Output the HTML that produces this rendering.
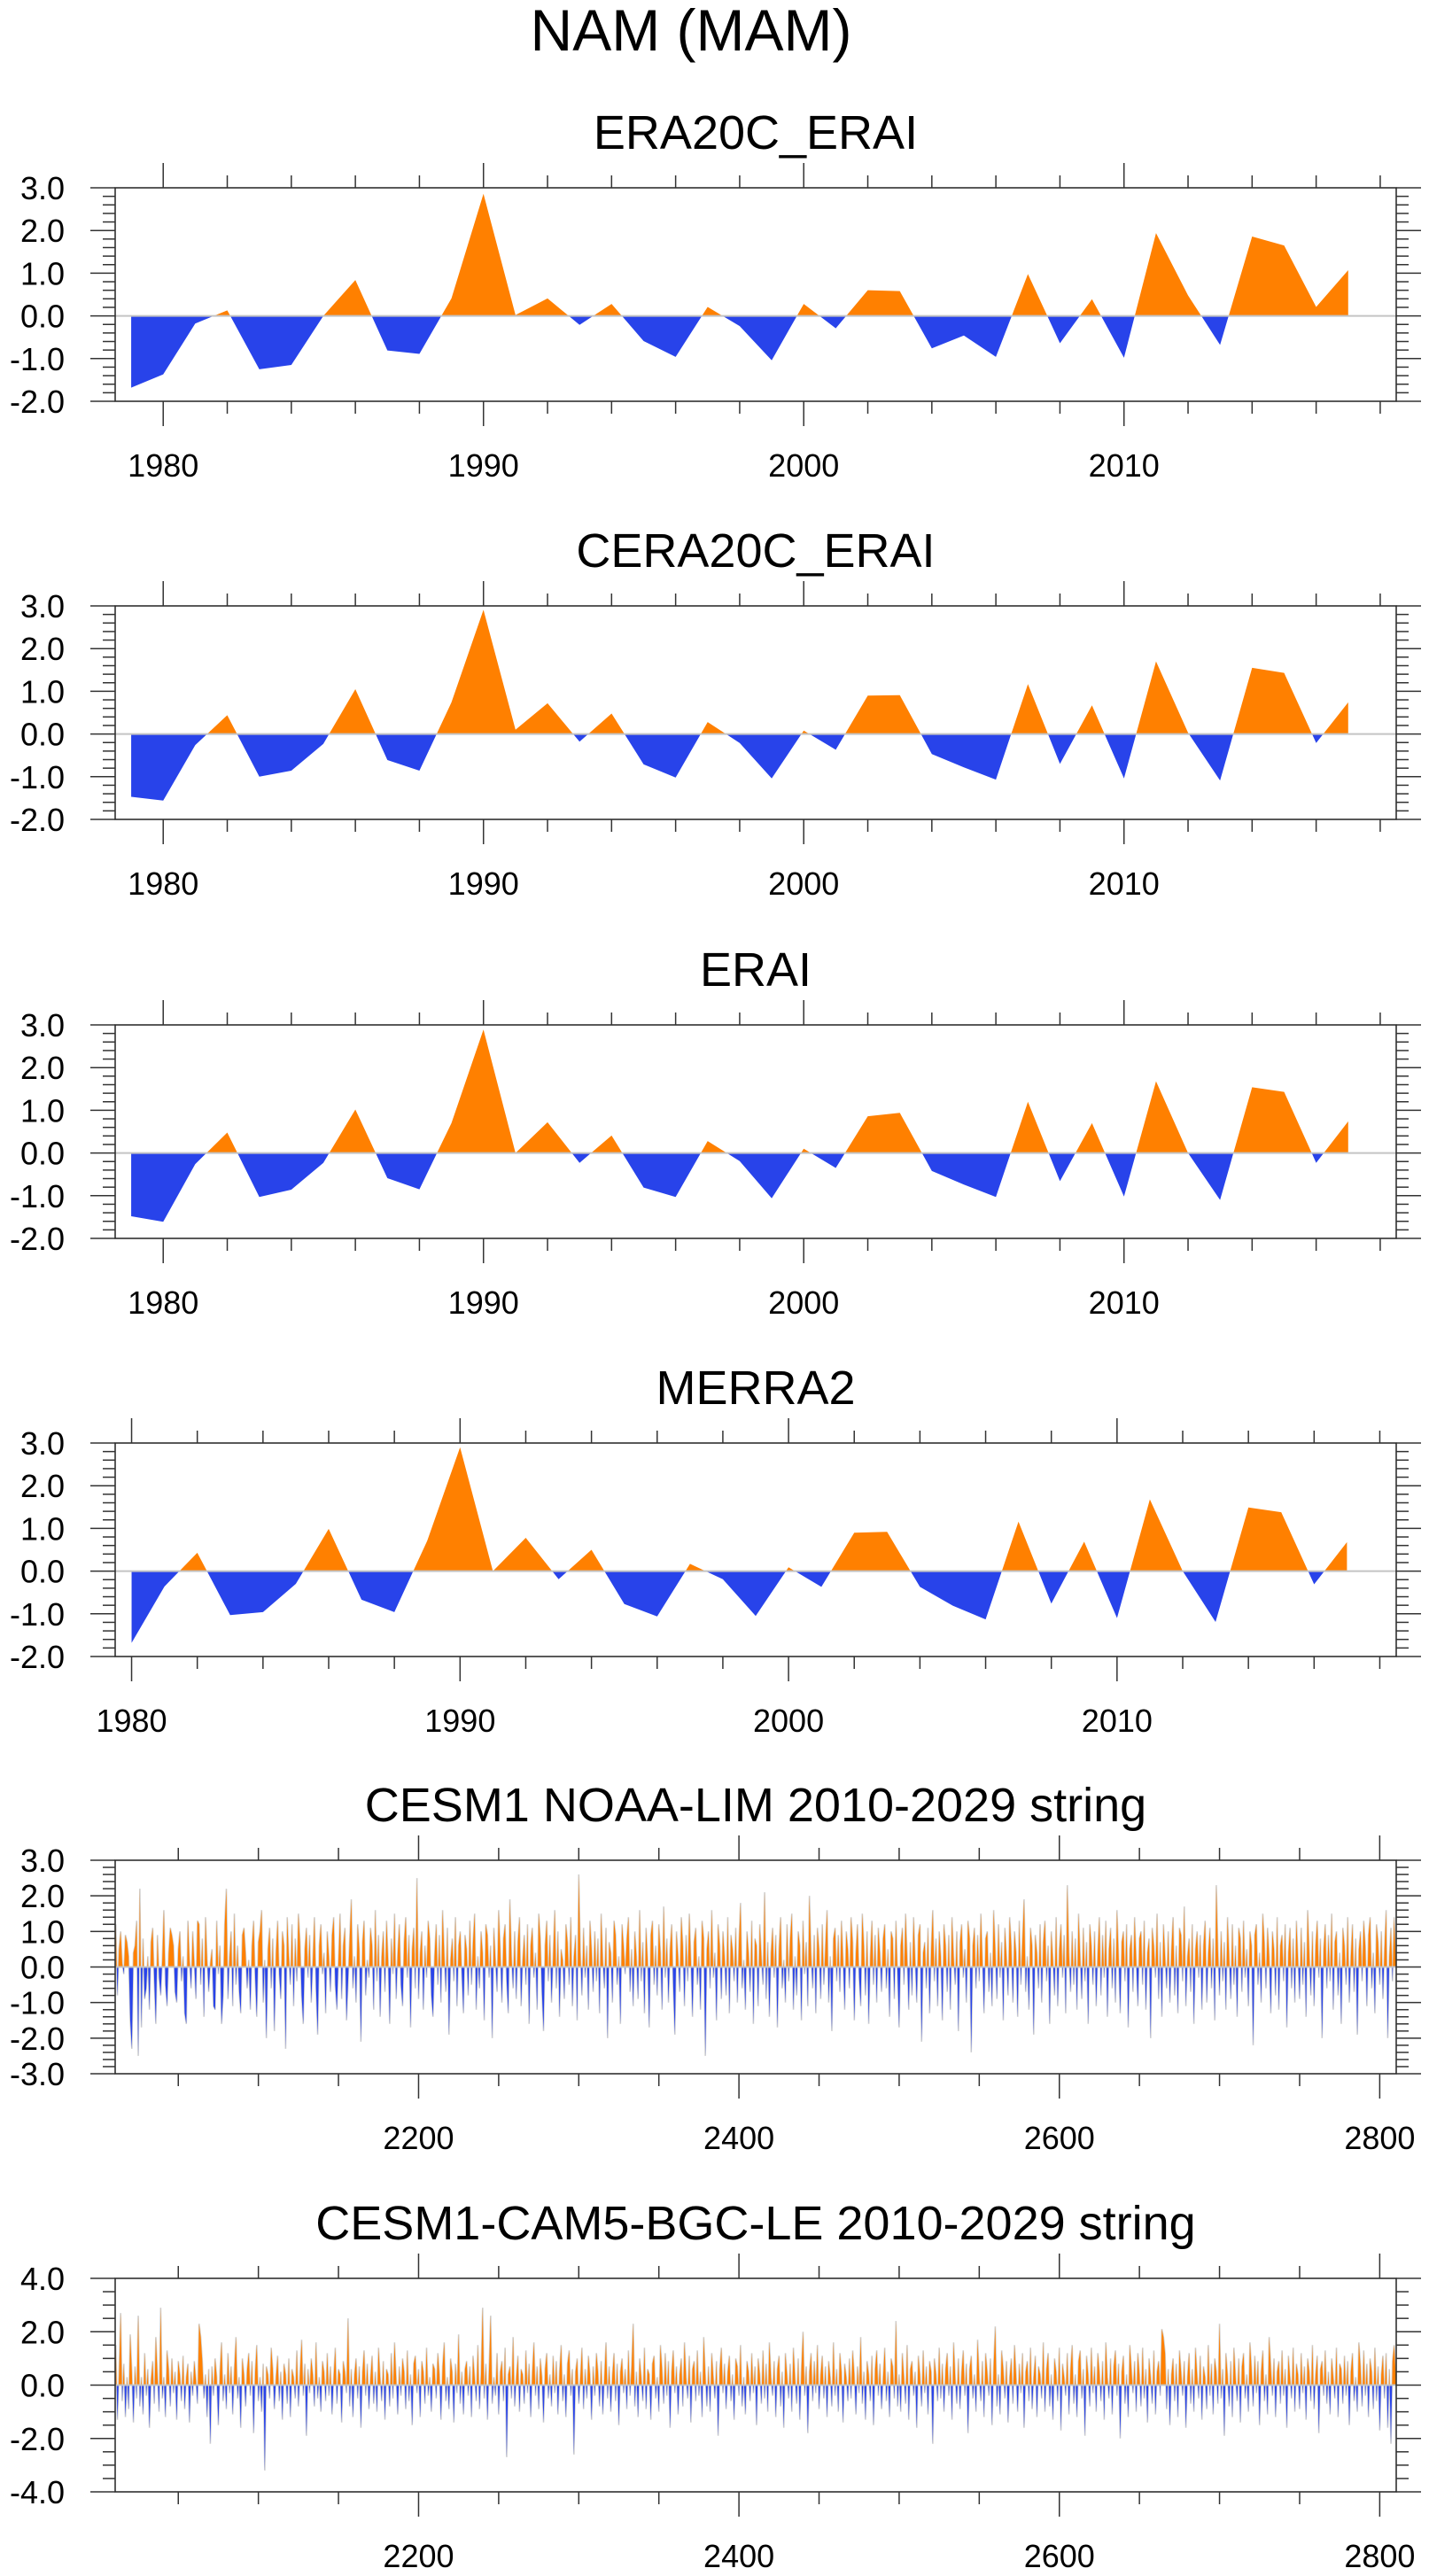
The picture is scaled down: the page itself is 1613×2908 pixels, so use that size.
<!DOCTYPE html>
<html><head><meta charset="utf-8"><title>NAM (MAM)</title>
<style>
html,body{margin:0;padding:0;background:#fff;}
svg{display:block;font-family:"Liberation Sans",Arial,sans-serif;}
</style></head>
<body>
<svg id="chart" width="1613" height="2908" viewBox="0 0 1613 2908" xmlns="http://www.w3.org/2000/svg">
<rect x="0" y="0" width="1613" height="2908" fill="#fff"/>
<text x="780" y="57" font-size="66" text-anchor="middle" fill="#000">NAM (MAM)</text>
</svg>
<script>
// ---- data ----
const era20cStartYear = 1979;
const era20cValues = [-1.68,-1.37,-0.18,0.13,-1.25,-1.15,0.0,0.84,-0.81,-0.89,0.41,2.86,0.02,0.41,-0.21,0.28,-0.59,-0.96,0.21,-0.24,-1.04,0.28,-0.29,0.6,0.58,-0.76,-0.46,-0.96,0.98,-0.64,0.39,-0.98,1.94,0.48,-0.68,1.86,1.65,0.21,1.07];
const cera20cStartYear = 1979;
const cera20cValues = [-1.47,-1.56,-0.26,0.44,-1.0,-0.86,-0.23,1.05,-0.61,-0.86,0.74,2.91,0.1,0.72,-0.18,0.48,-0.71,-1.02,0.28,-0.21,-1.04,0.08,-0.37,0.9,0.91,-0.47,-0.78,-1.07,1.17,-0.7,0.67,-1.04,1.7,0.03,-1.09,1.55,1.43,-0.21,0.74];
const eraiStartYear = 1979;
const eraiValues = [-1.48,-1.61,-0.26,0.48,-1.03,-0.86,-0.23,1.02,-0.59,-0.85,0.7,2.89,0.0,0.72,-0.23,0.41,-0.81,-1.03,0.28,-0.19,-1.06,0.1,-0.35,0.86,0.94,-0.42,-0.74,-1.03,1.2,-0.66,0.7,-1.02,1.68,0.0,-1.1,1.54,1.43,-0.23,0.74];
const merra2StartYear = 1980;
const merra2Values = [-1.68,-0.36,0.43,-1.03,-0.96,-0.3,0.99,-0.67,-0.96,0.71,2.9,0.0,0.78,-0.19,0.5,-0.77,-1.06,0.17,-0.19,-1.05,0.09,-0.37,0.9,0.92,-0.37,-0.81,-1.13,1.16,-0.76,0.69,-1.1,1.68,0.0,-1.19,1.49,1.38,-0.31,0.68];
const limStartYear = 2011;
const limValues = [
1.2,-0.8,0.5,1.0,0.1,-0.2,0.9,0.7,0.3,-1.5,-2.3,0.4,0.6,1.3,-2.5,2.2,-1.7,0.8,-0.9,-0.6,
0.3,-1.2,0.7,1.1,-0.4,-1.6,0.9,-0.3,-0.8,0.2,1.6,-0.5,-1.1,0.4,1.1,0.9,0.6,-0.7,-1.0,0.5,
1.0,-0.4,0.3,-1.3,-1.6,1.3,0.2,-0.6,1.0,0.1,-0.9,1.3,1.2,-0.5,0.8,-1.4,1.4,0.2,-0.7,0.1,
0.5,-1.1,-1.2,1.3,-0.2,0.6,-1.6,-0.8,1.2,2.2,-0.9,0.3,1.0,-1.1,1.5,-0.5,0.6,-0.7,-1.3,0.9,
1.1,0.4,-0.6,0.2,-1.2,0.6,1.3,-0.3,-1.4,0.7,1.0,1.6,-1.0,0.2,-2.0,0.5,1.1,-0.6,0.8,-1.8,
0.4,1.3,-0.2,-0.9,1.0,0.6,-2.3,1.4,0.3,-0.5,1.2,-1.1,0.8,-0.4,1.5,0.7,-0.8,-1.6,0.5,1.1,
-0.3,0.9,-1.0,0.2,1.4,-0.6,-1.9,0.6,1.2,-0.2,0.4,-1.3,1.0,0.3,-0.7,0.9,1.4,-0.5,-1.2,0.2,
1.5,-0.9,0.6,1.1,-1.5,-0.4,0.8,1.9,-0.6,0.3,-1.0,1.2,0.5,-2.1,0.7,1.3,-0.8,0.2,-0.3,1.1,
0.6,-1.2,1.6,-0.4,0.9,-1.4,0.3,1.0,-0.7,1.3,0.2,-1.6,0.8,-0.2,1.5,-0.9,0.4,1.2,-0.5,-1.1,
0.7,1.4,-0.3,0.9,-1.7,0.5,1.1,-0.6,2.5,-0.9,0.4,1.0,-1.2,0.6,-0.3,1.3,0.8,-0.8,-1.4,0.3,
1.2,-0.5,0.9,-1.0,1.6,0.4,-0.7,1.1,-1.9,0.2,0.8,-0.4,1.4,-1.1,0.6,1.0,-0.2,-1.3,0.9,0.5,
-0.8,1.3,-0.5,0.7,1.5,-1.2,0.3,-0.6,1.0,0.4,-1.5,1.2,0.9,-0.3,0.6,-2.0,1.1,0.2,-0.7,1.6,
0.5,-1.0,0.8,1.2,-0.4,-1.3,1.9,0.3,-0.6,1.0,-0.9,0.7,1.4,-1.1,0.2,0.9,-0.5,1.2,-1.6,0.6,
1.1,-0.3,0.4,-1.2,1.5,0.8,-0.7,-1.8,0.6,1.3,-0.4,0.9,-1.0,0.3,1.6,-0.6,1.0,-1.4,0.5,0.2,
-0.9,1.2,0.7,-0.5,1.4,-1.1,0.3,0.9,-1.5,2.6,0.4,-0.8,1.1,-0.3,0.6,-1.2,1.3,0.5,-0.7,1.0,
-0.4,0.8,-1.3,1.5,0.2,-0.6,1.1,-2.0,0.7,0.4,-1.0,1.3,0.9,-0.5,0.3,-1.6,1.2,0.6,-0.2,0.8,
1.4,-0.7,0.5,-1.1,1.0,0.3,-0.9,1.6,-0.4,0.7,-1.3,1.1,0.2,-1.7,0.9,1.3,-0.5,0.6,-0.8,1.2,
0.4,-1.2,1.7,-0.3,0.8,-1.0,0.5,1.2,-0.6,-1.9,1.0,0.3,-0.7,1.4,0.6,-1.1,0.9,-0.4,1.5,0.2,
-1.4,0.7,1.1,-0.5,0.3,-1.2,1.3,0.8,-2.5,0.5,1.0,-0.6,1.6,-0.3,0.4,-1.5,1.2,0.6,-0.9,1.0,
0.3,-0.8,1.4,-1.3,0.9,0.5,-0.4,1.1,-1.0,0.7,1.8,-0.6,0.2,-1.2,1.0,0.4,-0.7,1.3,-1.6,0.8,
0.6,-1.1,1.2,0.3,-0.5,2.1,-0.9,0.7,-1.4,0.4,1.1,-0.3,0.9,-1.7,0.5,1.4,-0.6,0.2,-1.0,1.2,
-0.4,0.8,1.5,-1.2,0.3,-0.8,1.0,0.6,-1.5,1.3,-0.2,0.7,-1.1,2.0,0.4,-0.6,0.9,-1.3,1.1,0.5,
-0.9,1.2,-0.5,0.6,1.6,-1.0,0.3,-1.8,0.8,1.1,-0.4,0.9,-0.7,1.3,0.2,-1.2,1.0,0.5,-0.6,1.4,
0.7,-1.5,0.4,1.2,-0.3,-1.1,1.5,0.6,-0.8,1.0,-1.6,0.3,1.3,-0.5,0.9,-1.0,1.1,0.4,-0.7,0.8,
1.2,-0.6,0.5,-1.4,1.0,0.8,-0.9,1.3,-0.2,-1.7,0.6,1.1,-0.5,1.5,0.3,-1.2,0.7,-0.8,1.4,0.2,
-1.0,0.9,1.2,-2.1,0.4,0.7,-0.6,1.1,-1.3,0.5,1.6,-0.4,0.8,-1.1,1.0,0.3,-1.5,1.2,0.6,-0.7,
0.9,-1.2,1.4,0.3,-0.5,1.0,-1.8,0.7,1.2,-0.3,0.5,-1.0,1.3,0.8,-2.4,0.6,1.1,-0.6,0.9,-0.4,
1.5,0.2,-1.3,0.8,1.0,-0.7,0.4,-1.1,1.6,0.5,-0.9,1.2,-0.3,0.7,-1.5,1.1,0.3,-0.8,1.4,0.6,
-1.0,1.0,0.4,-1.4,1.3,-0.5,0.8,1.9,-0.7,0.3,-1.2,1.1,0.6,-1.9,0.9,0.4,-0.6,1.2,-1.0,0.7,
1.3,-0.4,0.6,-1.6,1.0,0.2,-0.8,1.4,-1.1,0.5,1.2,-0.3,0.9,-1.3,2.3,0.4,-0.7,1.0,-0.5,0.8,
-1.2,1.5,0.3,-0.9,1.1,-0.4,0.7,-1.6,1.2,0.6,-0.5,1.0,-1.1,0.4,1.4,-0.8,0.9,-0.3,1.3,-1.4,
0.5,1.1,-0.6,0.8,-1.0,1.6,0.3,-1.3,0.7,1.0,-0.4,1.2,-1.7,0.5,0.9,-0.7,1.4,0.2,-1.1,0.8,
1.0,-0.5,1.3,-1.2,0.4,0.8,-2.0,1.1,0.6,-0.3,1.5,-0.9,0.7,-1.4,1.2,0.3,-0.6,1.0,-1.0,0.5,
1.4,-0.8,0.6,-1.3,1.1,0.9,-0.4,1.7,-1.1,0.3,0.8,-0.7,1.2,-1.6,0.5,1.0,-0.3,0.9,-1.2,0.6,
1.3,-1.0,0.4,1.1,-0.6,0.8,-1.5,2.3,0.5,-0.8,1.0,-0.4,0.7,-1.2,1.4,0.3,-0.9,1.2,-0.5,0.6,
-1.4,1.1,0.8,-0.7,1.3,-0.3,0.5,-1.1,1.0,0.6,-2.2,0.9,1.2,-0.5,0.4,-1.0,1.5,0.7,-0.6,1.1,
0.3,-1.3,1.0,0.5,-0.8,1.4,-1.2,0.6,0.9,-0.4,1.2,-1.7,0.4,1.1,-0.6,0.8,-1.0,1.3,0.2,-0.9,
1.1,-0.5,0.7,-1.4,1.6,0.4,-0.8,1.0,-1.1,0.6,1.3,-0.3,0.8,-2.0,0.5,1.2,-0.6,0.9,-0.4,1.5,
-1.2,0.7,1.0,-0.8,0.4,-1.6,1.1,0.6,-0.5,1.4,-1.0,0.3,1.2,-0.7,0.8,-1.9,0.5,1.0,-0.4,1.3,
0.6,-1.1,0.9,1.4,-0.6,0.4,-1.3,1.2,0.7,-0.5,1.0,-0.9,0.5,1.6,-2.0,0.3,1.1,-0.4,1.4,0.2];
const leStartYear = 2011;
const leValues = [
1.5,-1.3,0.4,2.7,-0.6,0.8,-1.2,0.3,-0.9,1.9,0.5,-1.4,0.7,-0.5,2.6,-0.8,0.3,-1.1,1.2,-0.4,
0.6,-1.6,0.2,0.9,-0.7,1.8,0.4,-1.0,2.9,-0.5,0.3,-1.2,1.3,0.6,-0.8,1.0,-0.3,0.5,-1.3,0.9,
0.4,-0.6,1.1,-0.9,0.3,0.8,-1.4,0.5,-0.4,0.9,0.2,-0.7,2.3,1.8,0.9,-0.5,0.4,-1.2,0.6,-2.2,
0.7,-0.4,1.0,0.3,-1.5,0.5,1.6,-0.6,0.4,-0.9,1.2,-0.3,0.7,-1.1,0.6,1.8,-0.5,0.3,-1.6,1.0,
0.4,-0.8,0.6,1.2,-0.4,0.9,-1.8,0.5,1.5,-0.6,0.3,-1.0,0.8,-3.2,0.7,0.4,-0.5,1.4,0.6,-0.9,
0.3,1.1,-0.6,0.5,-1.3,0.8,0.4,-0.7,1.0,-1.2,0.6,0.3,-0.5,1.3,-0.8,0.5,1.7,-0.4,0.8,-1.9,
0.6,-0.3,1.0,0.4,-0.8,1.6,-0.5,0.3,-1.0,0.9,0.5,-0.6,1.2,-0.4,0.7,-1.1,0.3,1.4,-0.7,0.6,
0.4,-1.4,0.9,0.5,-0.3,2.5,-0.8,0.6,-1.2,0.4,1.0,-0.5,0.7,-1.6,0.5,1.3,-0.4,0.8,-0.9,0.3,
1.1,-0.7,0.5,-1.0,1.4,0.3,-0.6,0.9,-1.3,0.6,0.4,-0.8,1.2,-0.5,1.6,0.3,-1.1,0.7,-0.4,1.0,
0.5,-0.9,1.3,-0.6,0.4,-1.5,0.8,1.1,-0.3,0.6,-1.2,0.9,0.5,-0.7,1.4,-0.4,0.3,-1.0,0.8,0.6,
-0.5,1.2,0.4,-1.3,0.7,1.6,-0.6,0.3,-0.9,1.0,0.5,-1.4,0.8,-0.3,1.9,-0.7,0.5,-1.1,0.6,0.9,
-0.4,0.7,-1.2,1.1,0.3,-0.6,1.5,-0.9,0.4,2.9,-0.5,0.8,-1.3,0.6,2.6,-0.7,0.3,-0.4,1.2,-1.1,
0.5,0.9,-0.6,1.4,-2.7,0.4,0.7,-0.5,1.8,-0.8,0.3,1.1,-1.0,0.6,0.4,-0.7,1.3,-0.3,0.8,-1.2,
0.5,1.6,-0.4,0.7,-0.9,1.0,0.3,-1.4,0.6,1.2,-0.5,0.4,-0.8,1.1,-0.3,0.9,-1.1,0.5,1.5,-0.6,
0.4,-1.2,0.8,1.3,-0.4,0.6,-2.6,0.5,1.0,-0.7,0.3,1.4,-0.9,0.6,-0.5,1.1,0.4,-1.3,0.7,-0.4,
1.2,0.5,-0.8,0.9,-1.1,0.3,1.6,-0.5,0.7,-1.0,0.4,1.2,-0.6,0.8,-1.5,0.5,1.0,-0.3,0.6,-0.9,
1.3,-0.4,0.7,2.3,-0.8,0.5,-1.2,1.0,0.3,-0.6,1.4,-0.9,0.6,0.4,-1.3,0.8,1.1,-0.5,0.3,-1.0,
1.5,0.6,-0.7,1.2,-0.4,0.9,-1.6,0.5,1.3,-0.3,0.7,-1.1,0.4,1.0,-0.8,1.6,0.3,-0.5,1.1,-1.4,
0.6,0.9,-0.6,1.3,-0.4,0.5,-1.2,1.8,0.4,-0.8,0.7,-1.0,1.2,0.3,-0.5,0.9,-1.9,0.6,1.4,-0.3,
0.8,-0.9,0.5,1.1,-0.6,0.4,-1.3,1.0,0.7,-0.4,1.5,-0.8,0.3,-1.1,0.9,0.5,-0.6,1.2,-0.3,0.7,
-1.5,1.0,0.4,-0.7,1.3,-0.5,0.8,-1.0,1.6,0.3,-0.4,0.9,-1.2,0.6,1.1,-0.8,0.5,-1.6,1.2,0.4,
-0.5,0.8,-1.0,1.4,0.3,-0.7,1.0,-1.3,0.6,2.0,-0.4,0.7,-1.8,0.5,1.2,-0.6,0.9,-0.3,1.5,-0.9,
0.4,1.1,-0.5,0.7,-1.2,0.9,0.3,-0.8,1.6,-0.4,0.6,-1.0,1.2,0.5,-1.4,0.8,0.3,-0.6,1.0,-0.5,
1.3,0.4,-1.1,0.7,-0.3,1.8,-0.7,0.5,-1.3,0.9,0.4,-0.6,1.1,-1.5,0.6,1.3,-0.4,0.8,-0.9,0.3,
1.4,-0.6,0.5,-1.2,1.0,0.7,-0.5,2.4,-0.8,0.4,-1.0,1.2,0.3,-0.7,1.5,-1.3,0.6,0.9,-0.4,0.5,
-1.6,1.1,0.4,-0.8,1.3,-0.3,0.7,-1.1,0.9,0.5,-2.2,1.0,0.4,-0.6,1.4,-0.5,0.8,-1.0,0.6,1.2,
-0.4,0.7,-1.3,1.6,0.3,-0.7,1.0,-0.9,0.5,1.3,-0.4,0.8,-1.8,0.6,1.1,-0.5,0.4,-1.0,1.7,0.3,
-0.6,0.9,-1.2,1.2,0.5,-0.4,1.0,-1.5,0.7,2.2,-0.8,0.4,-1.1,1.3,0.6,-0.5,0.9,-1.4,0.3,1.0,
-0.7,1.5,0.4,-1.0,0.8,-0.3,1.2,-1.6,0.5,0.9,-0.6,1.4,-0.9,0.3,1.1,-1.2,0.7,0.4,-0.5,1.6,
-1.0,0.6,1.2,-0.8,0.4,-1.3,1.0,0.5,-0.6,1.4,-1.7,0.8,0.3,-0.4,1.2,-1.1,0.6,1.5,-0.7,0.4,
-1.2,0.9,1.3,-0.5,0.6,-1.9,1.1,0.4,-0.8,1.4,-0.3,0.7,-1.0,1.2,0.5,-0.6,0.9,-1.3,1.6,0.3,
-0.5,1.0,-1.1,0.7,1.3,-0.4,0.8,-2.0,0.5,1.1,-0.7,0.4,-1.2,1.5,0.6,-0.3,0.9,-1.0,1.2,0.4,
-0.8,1.4,-0.5,0.6,-1.4,1.0,0.3,-0.7,1.3,-1.1,0.5,0.9,-0.4,2.1,1.8,1.2,-0.9,0.6,-1.5,0.4,
1.0,-0.6,0.8,-1.2,1.3,0.5,-0.4,0.9,-1.6,0.3,1.2,-0.7,0.6,-1.0,1.4,0.4,-0.5,1.1,-1.3,0.7,
0.3,-0.9,1.5,-0.4,0.8,-1.1,1.0,0.5,-0.7,2.3,-0.5,0.6,-1.9,1.2,0.4,-0.8,0.9,-1.2,1.4,0.3,
-0.6,1.0,-1.4,0.7,1.2,-0.5,0.4,-1.0,1.6,0.6,-0.8,1.1,-0.3,0.9,-1.5,0.5,1.3,-0.6,0.4,-1.1,
1.8,0.7,-0.4,1.0,-1.2,0.5,0.9,-0.7,1.3,-0.4,0.6,-1.6,1.1,0.3,-0.5,1.4,-1.0,0.8,0.4,-0.9,
1.2,-0.3,0.7,-1.3,1.0,0.5,-0.6,1.5,-0.9,0.4,1.1,-1.8,0.6,0.9,-0.4,1.3,-0.7,0.5,-1.1,1.0,
0.3,-0.5,1.4,-1.2,0.8,0.6,-0.7,1.1,-0.4,0.9,-1.5,0.5,1.2,-0.6,0.3,-1.0,1.6,0.7,-0.8,1.3,
-0.4,0.8,-1.2,1.0,0.5,-0.9,1.4,-0.6,0.7,-1.7,0.4,1.1,-0.5,1.2,-1.6,0.6,-2.2,0.9,1.5,0.4];

// ---- layout (not data) ----
const SVGNS = "http://www.w3.org/2000/svg";
const svg = document.getElementById('chart');
const LEFT = 130, RIGHT = 1576, H = 241;
const ORANGE = "#ff8000", BLUE = "#2843ea";

function mk(tag, attrs, parent) {
  const e = document.createElementNS(SVGNS, tag);
  for (const k in attrs) e.setAttribute(k, attrs[k]);
  (parent || svg).appendChild(e);
  return e;
}

function drawPanel(cfg, idx) {
  const top = cfg.top, bottom = top + H;
  const g = mk('g', {});
  
  
  const sx = v => LEFT + (v - cfg.xmin) / (cfg.xmax - cfg.xmin) * (RIGHT - LEFT);
  const sy = v => top + (cfg.ymax - v) / (cfg.ymax - cfg.ymin) * H;

  // title
  const t = mk('text', {x: (LEFT + RIGHT) / 2, y: top - 44, 'font-size': 54, 'text-anchor': 'middle', fill: '#000'}, g);
  t.textContent = cfg.title;
  
  

  // clip paths
  const defs = mk('defs', {}, g);
  const z = sy(0);
  const cpA = mk('clipPath', {id: 'above' + idx}, defs);
  mk('rect', {x: LEFT, y: top, width: RIGHT - LEFT, height: z - top}, cpA);
  const cpB = mk('clipPath', {id: 'below' + idx}, defs);
  mk('rect', {x: LEFT, y: z, width: RIGHT - LEFT, height: bottom - z}, cpB);

  // series
  const vals = cfg.values;
  let pts = [];
  for (let i = 0; i < vals.length; i++) {
    pts.push(sx(cfg.start + i).toFixed(2) + ',' + sy(vals[i]).toFixed(2));
  }
  const x0 = sx(cfg.start).toFixed(2), xn = sx(cfg.start + vals.length - 1).toFixed(2);
  const area = 'M' + x0 + ',' + z + ' L' + pts.join(' L') + ' L' + xn + ',' + z + ' Z';
  if (cfg.grayLine) {
    const pl = mk('polyline', {points: pts.join(' '), fill: 'none', stroke: '#d0d0d0', 'stroke-width': 1.6}, g);
    
    
  }
  const pa = mk('path', {d: area, fill: ORANGE, 'clip-path': 'url(#above' + idx + ')'}, g);
  
  
  const pb = mk('path', {d: area, fill: BLUE, 'clip-path': 'url(#below' + idx + ')'}, g);
  
  

  // zero line
  const zl = mk('line', {x1: LEFT, x2: RIGHT, y1: z, y2: z, stroke: '#c4c4c4', 'stroke-width': 2}, g);
  
  

  // box
  const box = mk('rect', {x: LEFT, y: top, width: RIGHT - LEFT, height: H, fill: 'none', stroke: '#222', 'stroke-width': 1.5}, g);
  
  

  // y ticks
  const nMin = Math.round((cfg.ymax - cfg.ymin) / cfg.yminor);
  for (let k = 0; k <= nMin; k++) {
    const v = cfg.ymin + k * cfg.yminor;
    const y = sy(v);
    const isMajor = Math.abs(v / cfg.ymajor - Math.round(v / cfg.ymajor)) < 1e-6;
    const len = isMajor ? 28 : 14;
    mk('line', {x1: LEFT - len, x2: LEFT, y1: y, y2: y, stroke: '#333', 'stroke-width': 1.5}, g);
    mk('line', {x1: RIGHT, x2: RIGHT + len, y1: y, y2: y, stroke: '#333', 'stroke-width': 1.5}, g);
    if (isMajor) {
      const lb = mk('text', {x: 73, y: y + 13, 'font-size': 36, 'text-anchor': 'end', fill: '#000'}, g);
      lb.textContent = v.toFixed(1);
      
      
    }
  }
  // x ticks
  for (let v = Math.ceil(cfg.xmin / cfg.xminor) * cfg.xminor; v <= cfg.xmax; v += cfg.xminor) {
    const x = sx(v);
    const isMajor = v % cfg.xmajor === 0;
    const len = isMajor ? 28 : 14;
    mk('line', {x1: x, x2: x, y1: top - len, y2: top, stroke: '#333', 'stroke-width': 1.5}, g);
    mk('line', {x1: x, x2: x, y1: bottom, y2: bottom + len, stroke: '#333', 'stroke-width': 1.5}, g);
    if (isMajor) {
      const lb = mk('text', {x: x, y: bottom + 85, 'font-size': 36, 'text-anchor': 'middle', fill: '#000'}, g);
      lb.textContent = String(v);
      
      
    }
  }
}

const panels = [
  {name: 'era20c-erai', title: 'ERA20C_ERAI', top: 212, xmin: 1978.5, xmax: 2018.5, xminor: 2, xmajor: 10, ymin: -2, ymax: 3, yminor: 0.2, ymajor: 1, start: era20cStartYear, values: era20cValues},
  {name: 'cera20c-erai', title: 'CERA20C_ERAI', top: 684, xmin: 1978.5, xmax: 2018.5, xminor: 2, xmajor: 10, ymin: -2, ymax: 3, yminor: 0.2, ymajor: 1, start: cera20cStartYear, values: cera20cValues},
  {name: 'erai', title: 'ERAI', top: 1157, xmin: 1978.5, xmax: 2018.5, xminor: 2, xmajor: 10, ymin: -2, ymax: 3, yminor: 0.2, ymajor: 1, start: eraiStartYear, values: eraiValues},
  {name: 'merra2', title: 'MERRA2', top: 1629, xmin: 1979.5, xmax: 2018.5, xminor: 2, xmajor: 10, ymin: -2, ymax: 3, yminor: 0.2, ymajor: 1, start: merra2StartYear, values: merra2Values},
  {name: 'cesm1-noaa-lim', title: 'CESM1 NOAA-LIM 2010-2029 string', top: 2100, xmin: 2010.6, xmax: 2810.3, xminor: 50, xmajor: 200, ymin: -3, ymax: 3, yminor: 0.2, ymajor: 1, start: limStartYear, values: limValues, grayLine: true},
  {name: 'cesm1-cam5-bgc-le', title: 'CESM1-CAM5-BGC-LE 2010-2029 string', top: 2572, xmin: 2010.6, xmax: 2810.3, xminor: 50, xmajor: 200, ymin: -4, ymax: 4, yminor: 0.5, ymajor: 2, start: leStartYear, values: leValues, grayLine: true}
];
panels.forEach(drawPanel);
</script>
</body></html>
